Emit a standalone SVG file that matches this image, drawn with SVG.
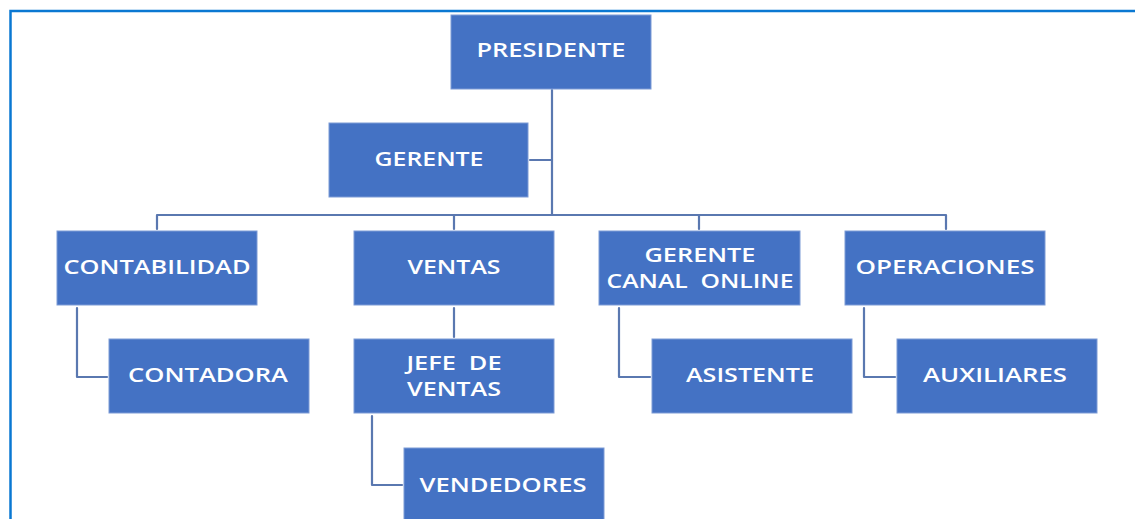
<svg xmlns="http://www.w3.org/2000/svg" width="1135" height="519" viewBox="0 0 1135 519">
  <style>
    .box { fill: #4472C4; stroke: #7D9BD6; stroke-width: 1; }
    .lbl { fill: #FFFFFF; font-family: "Open Sans", "Liberation Sans", sans-serif; font-weight: 600; font-size: 19px; text-anchor: middle; }
    .conn { fill: none; stroke: #5A78B0; stroke-width: 2.2; stroke-linejoin: round; stroke-linecap: round; }
    .frame { fill: none; stroke: #0A78D2; stroke-width: 2.5; }
  </style>
  <rect x="0" y="0" width="1135" height="519" fill="#FFFFFF"/>
  <path class="frame" d="M10.5 519 V11 H1135"/>

  <g id="connectors">
    <path class="conn" d="M552 90 V215"/>
    <path class="conn" d="M530 160 H552"/>
    <path class="conn" d="M157 229 V215 H946 V229"/>
    <path class="conn" d="M454 215 V229"/>
    <path class="conn" d="M699 215 V229"/>
    <path class="conn" d="M77 308 V377 H107"/>
    <path class="conn" d="M454 308 V337"/>
    <path class="conn" d="M372 416 V485 H402"/>
    <path class="conn" d="M619 308 V377 H650"/>
    <path class="conn" d="M864 308 V377 H895"/>
  </g>

  <g id="presidente">
    <rect class="box" x="451" y="15" width="200" height="74"/>
    <text class="lbl" x="551" y="57" textLength="149" lengthAdjust="spacingAndGlyphs">PRESIDENTE</text>
  </g>
  <g id="gerente">
    <rect class="box" x="329" y="123" width="199" height="74"/>
    <text class="lbl" x="429" y="166" textLength="109" lengthAdjust="spacingAndGlyphs">GERENTE</text>
  </g>
  <g id="contabilidad">
    <rect class="box" x="57" y="231" width="200" height="74"/>
    <text class="lbl" x="157" y="274" textLength="187" lengthAdjust="spacingAndGlyphs">CONTABILIDAD</text>
  </g>
  <g id="ventas">
    <rect class="box" x="354" y="231" width="200" height="74"/>
    <text class="lbl" x="454" y="274" textLength="93" lengthAdjust="spacingAndGlyphs">VENTAS</text>
  </g>
  <g id="gerente-canal-online">
    <rect class="box" x="599" y="231" width="201" height="74"/>
    <text class="lbl" x="700" y="262" textLength="111" lengthAdjust="spacingAndGlyphs">GERENTE</text>
    <text class="lbl" x="700" y="288" textLength="187" lengthAdjust="spacingAndGlyphs" xml:space="preserve">CANAL  ONLINE</text>
  </g>
  <g id="operaciones">
    <rect class="box" x="845" y="231" width="200" height="74"/>
    <text class="lbl" x="945" y="274" textLength="179" lengthAdjust="spacingAndGlyphs">OPERACIONES</text>
  </g>
  <g id="contadora">
    <rect class="box" x="109" y="339" width="200" height="74"/>
    <text class="lbl" x="208" y="382" textLength="160" lengthAdjust="spacingAndGlyphs">CONTADORA</text>
  </g>
  <g id="jefe-de-ventas">
    <rect class="box" x="354" y="339" width="200" height="74"/>
    <text class="lbl" x="454" y="370" textLength="95" lengthAdjust="spacingAndGlyphs" xml:space="preserve">JEFE  DE</text>
    <text class="lbl" x="454" y="396" textLength="94" lengthAdjust="spacingAndGlyphs">VENTAS</text>
  </g>
  <g id="asistente">
    <rect class="box" x="652" y="339" width="200" height="74"/>
    <text class="lbl" x="750" y="382" textLength="128" lengthAdjust="spacingAndGlyphs">ASISTENTE</text>
  </g>
  <g id="auxiliares">
    <rect class="box" x="897" y="339" width="200" height="74"/>
    <text class="lbl" x="995" y="382" textLength="144" lengthAdjust="spacingAndGlyphs">AUXILIARES</text>
  </g>
  <g id="vendedores">
    <rect class="box" x="404" y="448" width="200" height="80"/>
    <text class="lbl" x="503" y="492" textLength="167" lengthAdjust="spacingAndGlyphs">VENDEDORES</text>
  </g>
</svg>
